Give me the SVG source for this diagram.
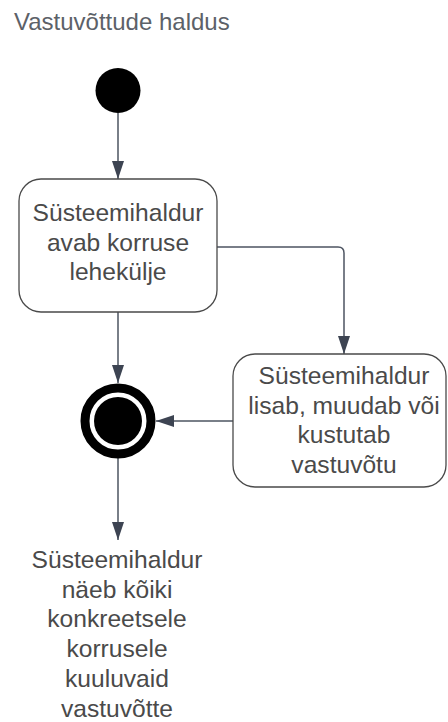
<svg xmlns="http://www.w3.org/2000/svg" width="448" height="722" viewBox="0 0 448 722">
<defs>
<style>
.t{font-family:"Liberation Sans",Arial,sans-serif;font-size:24.6px;fill:#4a4a4a;text-anchor:middle}
.title{font-family:"Liberation Sans",Arial,sans-serif;font-size:24px;fill:#5c6168}
.box{fill:#fff;stroke:#4a4a4a;stroke-width:1.3}
.c{fill:none;stroke:#4d5461;stroke-width:1.5}
</style>
<marker id="ah" viewBox="0 0 18 12" refX="18" refY="6" markerWidth="18" markerHeight="12" markerUnits="userSpaceOnUse" orient="auto">
<path d="M0,0 L18,6 L0,12 Z" fill="#3d4452"/>
</marker>
</defs>
<rect width="448" height="722" fill="#fff"/>
<text class="title" x="14" y="30">Vastuvõttude haldus</text>
<g id="connectors">
<path class="c" d="M118,113 L118,179" marker-end="url(#ah)"/>
<path class="c" d="M217,247 L338,247 Q344,247 344,253 L344,354" marker-end="url(#ah)"/>
<path class="c" d="M118,312 L118,383" marker-end="url(#ah)"/>
<path class="c" d="M233,421 L156,421" marker-end="url(#ah)"/>
<path class="c" d="M118,458 L118,540" marker-end="url(#ah)"/>
</g>
<g id="start">
<circle cx="118" cy="90.5" r="22.5" fill="#000"/>
</g>
<g id="box1">
<rect class="box" x="19" y="179" width="198" height="133" rx="22"/>
<text class="t" x="118" y="221">Süsteemihaldur</text>
<text class="t" x="118" y="251">avab korruse</text>
<text class="t" x="118" y="280">lehekülje</text>
</g>
<g id="box2">
<rect class="box" x="233" y="354" width="213" height="133" rx="22"/>
<text class="t" x="344" y="383.5">Süsteemihaldur</text>
<text class="t" x="344" y="413.5">lisab, muudab või</text>
<text class="t" x="344" y="443">kustutab</text>
<text class="t" x="344" y="472.5">vastuvõtu</text>
</g>
<g id="end">
<circle cx="118" cy="421" r="33" fill="none" stroke="#000" stroke-width="9"/>
<circle cx="118" cy="421" r="24" fill="#000"/>
</g>
<g id="result">
<text class="t" x="117" y="567.5">Süsteemihaldur</text>
<text class="t" x="117" y="597.5">näeb kõiki</text>
<text class="t" x="117" y="627">konkreetsele</text>
<text class="t" x="117" y="657">korrusele</text>
<text class="t" x="117" y="687">kuuluvaid</text>
<text class="t" x="117" y="716.5">vastuvõtte</text>
</g>
</svg>
